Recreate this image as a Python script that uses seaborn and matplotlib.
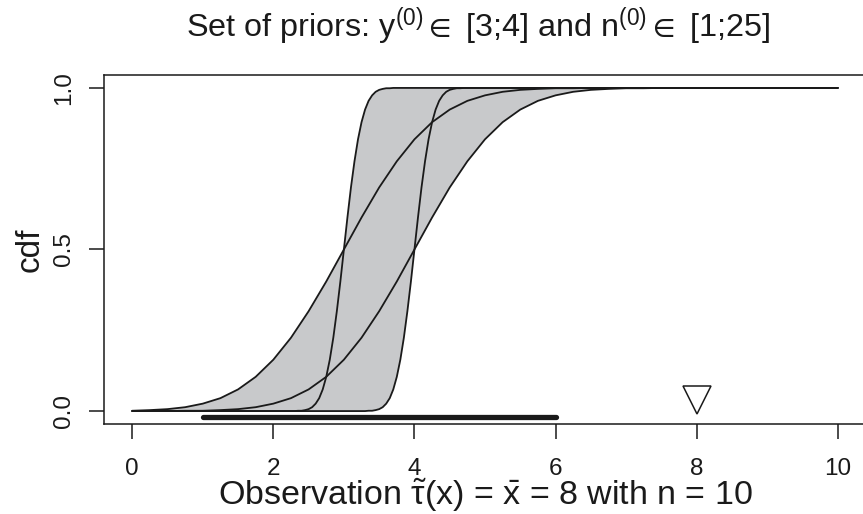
import numpy as np
import matplotlib
matplotlib.use("Agg")
import matplotlib.pyplot as plt
import seaborn as sns

# wide priors (n0 = 1), read on a 0.25 grid
x_wide = [0, 0.25, 0.5, 0.75, 1.0, 1.25, 1.5, 1.75, 2.0, 2.25, 2.5, 2.75,
          3.0, 3.25, 3.5, 3.75, 4.0, 4.25, 4.5, 4.75, 5.0, 5.25, 5.5, 5.75,
          6.0, 6.25, 6.5, 6.75, 7.0, 7.25, 7.5, 7.75, 8.0, 8.25, 8.5, 8.75,
          9.0, 9.25, 9.5, 9.75, 10.0]
cdf_y3_n1 = [0.001, 0.003, 0.006, 0.012, 0.023, 0.040, 0.067, 0.106, 0.159, 0.227, 0.309, 0.401,
             0.500, 0.599, 0.692, 0.773, 0.841, 0.894, 0.933, 0.960, 0.977, 0.988, 0.994, 0.997,
             0.999, 0.999, 1.0, 1.0, 1.0, 1.0, 1.0, 1.0, 1.0, 1.0, 1.0, 1.0,
             1.0, 1.0, 1.0, 1.0, 1.0]
cdf_y4_n1 = [0.000, 0.000, 0.000, 0.001, 0.001, 0.003, 0.006, 0.012, 0.023, 0.040, 0.067, 0.106,
             0.159, 0.227, 0.309, 0.401, 0.500, 0.599, 0.692, 0.773, 0.841, 0.894, 0.933, 0.960,
             0.977, 0.988, 0.994, 0.997, 0.999, 0.999, 1.0, 1.0, 1.0, 1.0, 1.0, 1.0,
             1.0, 1.0, 1.0, 1.0, 1.0]

# narrow priors (n0 = 25), read on a finer grid around the jump
x_narrow_y3 = [0, 2.2, 2.25, 2.3, 2.35, 2.4, 2.45, 2.5, 2.55, 2.6, 2.65, 2.7, 2.75, 2.8, 2.85,
               2.9, 2.95, 3.0, 3.05, 3.1, 3.15, 3.2, 3.25, 3.3, 3.35, 3.4, 3.45, 3.5,
               3.55, 3.6, 3.65, 3.7, 3.75, 3.8, 10]
x_narrow_y4 = [0, 3.2, 3.25, 3.3, 3.35, 3.4, 3.45, 3.5, 3.55, 3.6, 3.65, 3.7, 3.75, 3.8, 3.85,
               3.9, 3.95, 4.0, 4.05, 4.1, 4.15, 4.2, 4.25, 4.3, 4.35, 4.4, 4.45, 4.5,
               4.55, 4.6, 4.65, 4.7, 4.75, 4.8, 10]
cdf_y3_n25 = [0, 0.000, 0.000, 0.000, 0.001, 0.001, 0.003, 0.006, 0.012, 0.023, 0.040, 0.067, 0.106,
              0.159, 0.227, 0.309, 0.401, 0.500, 0.599, 0.692, 0.773, 0.841, 0.894, 0.933, 0.960,
              0.977, 0.988, 0.994, 0.997, 0.999, 0.999, 1.0, 1.0, 1.0, 1.0]
cdf_y4_n25 = [0, 0.000, 0.000, 0.000, 0.001, 0.001, 0.003, 0.006, 0.012, 0.023, 0.040, 0.067, 0.106,
              0.159, 0.227, 0.309, 0.401, 0.500, 0.599, 0.692, 0.773, 0.841, 0.894, 0.933, 0.960,
              0.977, 0.988, 0.994, 0.997, 0.999, 0.999, 1.0, 1.0, 1.0, 1.0]

y0_low, y0_high = 3, 4   # prior means bounding the set
data_range = [1, 6]      # thick bar under the curves
obs_mean = 8             # observation marker
x_ticks = [0, 2, 4, 6, 8, 10]
y_ticks = [0.0, 0.5, 1.0]

sns.set_style("ticks")
plt.rcParams["font.family"] = ["Liberation Sans", "DejaVu Sans"]
plt.rcParams["mathtext.fontset"] = "custom"
plt.rcParams["mathtext.rm"] = "Liberation Sans"
plt.rcParams["mathtext.it"] = "Liberation Sans"
plt.rcParams["mathtext.bf"] = "Liberation Sans:bold"
plt.rcParams["mathtext.fallback"] = "stixsans"

fig = plt.figure(figsize=(8.63, 5.14), dpi=100)
W, H = 863, 514
ax = fig.add_axes([104 / W, 1 - 424 / H, 762 / W, 349 / H])

# shaded set: upper = max of the y0=3 curves, lower = min of the y0=4 curves
xw, xa, xb = np.array(x_wide), np.array(x_narrow_y3), np.array(x_narrow_y4)
up_x = np.r_[xw[xw <= y0_low], xa[xa > y0_low]]
up_y = np.r_[np.array(cdf_y3_n1)[xw <= y0_low], np.array(cdf_y3_n25)[xa > y0_low]]
lo_x = np.r_[xb[xb <= y0_high], xw[xw > y0_high]]
lo_y = np.r_[np.array(cdf_y4_n25)[xb <= y0_high], np.array(cdf_y4_n1)[xw > y0_high]]
ax.fill(np.r_[up_x, lo_x[::-1]], np.r_[up_y, lo_y[::-1]], color="#c8c9cb", lw=0, zorder=1)

for xs, ys in [(x_wide, cdf_y3_n1), (x_wide, cdf_y4_n1),
               (x_narrow_y3, cdf_y3_n25), (x_narrow_y4, cdf_y4_n25)]:
    sns.lineplot(x=xs, y=ys, ax=ax, color="#1a1a1a", lw=1.3, estimator=None, sort=False, zorder=3)

ax.plot(data_range, [-0.019, -0.019], color="#1a1a1a", lw=3.8, solid_capstyle="round", zorder=3)
ax.plot([obs_mean], [0.034], marker="v", markersize=20, markerfacecolor="white",
        markeredgecolor="#1a1a1a", markeredgewidth=1.1, zorder=4)

ax.set_xlim(-0.4, 10.4)
ax.set_ylim(-0.04, 1.04)
ax.set_xticks(x_ticks)
ax.set_xticklabels([str(t) for t in x_ticks])
ax.set_yticks(y_ticks)
ax.set_yticklabels(["0.0", "0.5", "1.0"])
ax.tick_params(axis="both", length=10.8, width=1.1, color="#1a1a1a", labelsize=17.5, labelcolor="#1a1a1a")
ax.tick_params(axis="x", pad=13.5)
ax.tick_params(axis="y", pad=10, labelrotation=90)
for lab in ax.get_yticklabels():
    lab.set_va("center")
for s in ax.spines.values():
    s.set_linewidth(1.1)
    s.set_color("#1a1a1a")

fig.text(478 / W, 1 - 37 / H,
         r"Set of priors: y$^{(0)}\in$ [3;4] and n$^{(0)}\in$ [1;25]",
         ha="center", va="baseline", fontsize=23.3, color="#1a1a1a")
fig.text(485 / W, 1 - 505 / H,
         r"Observation $\tilde{\tau}$(x) = $\bar{\mathrm{x}}$ = 8 with n = 10",
         ha="center", va="baseline", fontsize=24.5, color="#1a1a1a")
fig.text(30 / W, 1 - 250 / H, "cdf", rotation=90, ha="center", va="center",
         fontsize=24, color="#1a1a1a")

fig.savefig("out.png", dpi=100)
